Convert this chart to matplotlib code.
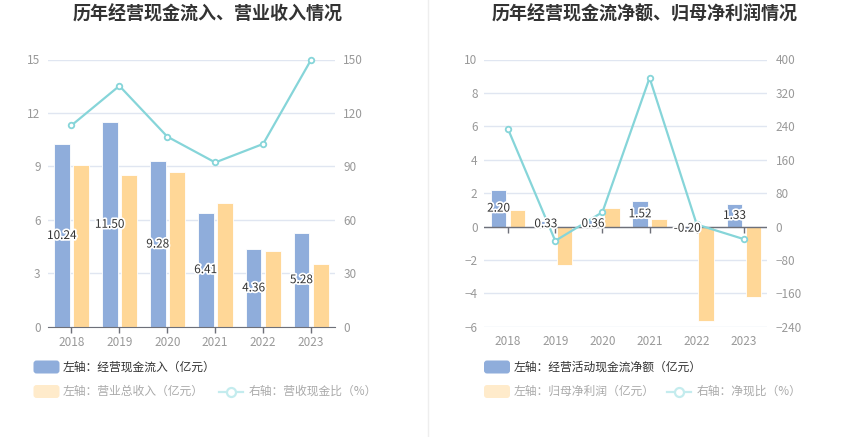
import matplotlib
matplotlib.use("Agg")
import matplotlib.pyplot as plt
import matplotlib.patheffects as pe
from matplotlib.patches import FancyBboxPatch
from matplotlib.lines import Line2D
from matplotlib.transforms import IdentityTransform
import numpy as np

plt.rcParams['font.family'] = ['Noto Sans CJK SC', 'DejaVu Sans']

# ---------------- data ----------------
years = ['2018', '2019', '2020', '2021', '2022', '2023']

# left chart
cash_inflow = [10.24, 11.50, 9.28, 6.41, 4.36, 5.28]        # 经营现金流入（亿元）
revenue = [9.05, 8.51, 8.70, 6.96, 4.26, 3.53]              # 营业总收入（亿元）
cash_revenue_ratio = [113.0, 135.2, 106.7, 92.2, 102.6, 149.8]  # 营收现金比（%）

# right chart
op_cash_net = [2.20, 0.33, 0.36, 1.52, -0.20, 1.33]         # 经营活动现金流净额（亿元）
net_profit = [0.98, -2.32, 1.10, 0.46, -5.67, -4.23]        # 归母净利润（亿元）
net_cash_ratio = [233.0, -34.3, 34.3, 356.0, 4.8, -30.3]    # 净现比（%）

titles = ['历年经营现金流入、营业收入情况', '历年经营现金流净额、归母净利润情况']
legend_left = ['左轴：经营现金流入（亿元）', '左轴：营业总收入（亿元）', '右轴：营收现金比（%）']
legend_right = ['左轴：经营活动现金流净额（亿元）', '左轴：归母净利润（亿元）', '右轴：净现比（%）']

# ---------------- style ----------------
BLUE = '#8FADDB'
ORANGE = '#FFD797'
CYAN = '#86D5D9'
ORANGE_FADE = '#FFEBCB'
CYAN_FADE = '#C4ECEE'
GRID = '#E0E6F1'
AXIS = '#6E7079'
TICK = '#999999'

W, H = 850, 437
fig = plt.figure(figsize=(W / 100, H / 100), dpi=100)


def px_axes(x0, x1, y0, y1):
    """axes from pixel box (top-left origin)"""
    return fig.add_axes([x0 / W, 1 - y1 / H, (x1 - x0) / W, (y1 - y0) / H])


def draw_panel(ax, left_vals, right_vals, line_vals, ylim, yticks, y2lim, y2ticks, zero_inside):
    x = np.arange(len(years))
    ax2 = ax.twinx()
    ax.set_zorder(1)
    ax2.set_zorder(2)
    ax.patch.set_visible(False)

    for t in yticks:
        ax.axhline(t, color=GRID, lw=1, zorder=0)

    ax.bar(x - 0.2, left_vals, width=0.33, color=BLUE, edgecolor='white', lw=0.6, zorder=2)
    ax.bar(x + 0.2, right_vals, width=0.33, color=ORANGE, edgecolor='white', lw=0.6, zorder=2)

    ax2.plot(x, line_vals, color=CYAN, lw=1.6, marker='o', ms=4, mfc='white',
             mec=CYAN, mew=1.3, zorder=3, clip_on=False)

    for xi, v in zip(x, left_vals):
        ax2.text(xi - 0.2, v / 2, f'{v:.2f}', transform=ax.transData, ha='center', va='center',
                 fontsize=8.5, color='#333333', zorder=5,
                 path_effects=[pe.withStroke(linewidth=2.5, foreground='white')])

    ax.set_xlim(-0.5, len(years) - 0.5)
    ax.set_ylim(*ylim)
    ax.set_yticks(yticks)
    ax2.set_ylim(*y2lim)
    ax2.set_yticks(y2ticks)
    ax.set_xticks(x)
    ax.set_xticklabels(years)

    for a in (ax, ax2):
        for s in a.spines.values():
            s.set_visible(False)
    ax.tick_params(axis='y', length=0, pad=5, labelsize=8.5, labelcolor=TICK)
    ax2.tick_params(axis='y', length=0, pad=6, labelsize=8.5, labelcolor=TICK)

    if zero_inside:
        ax.axhline(0, color=AXIS, lw=1, zorder=3)
        ax.plot(x, [0] * len(x), ls='none', marker=3, ms=4, color=AXIS, zorder=3)
        ax.tick_params(axis='x', length=0, pad=6, labelsize=8.5, labelcolor=TICK)
    else:
        ax.spines['bottom'].set_visible(True)
        ax.spines['bottom'].set_color(AXIS)
        ax.tick_params(axis='x', length=4, width=1, color=AXIS, pad=3,
                       labelsize=8.5, labelcolor=TICK)
    return ax2


# left panel
axL = px_axes(47.5, 335, 59.5, 326.7)
draw_panel(axL, cash_inflow, revenue, cash_revenue_ratio,
           (0, 15), np.arange(0, 16, 3), (0, 150), np.arange(0, 151, 30), False)

# right panel
axR = px_axes(484.5, 767.5, 59.5, 326.7)
draw_panel(axR, op_cash_net, net_profit, net_cash_ratio,
           (-6, 10), np.arange(-6, 11, 2), (-240, 400), np.arange(-240, 401, 80), True)

# titles
fig.text(208 / W, 1 - 14 / H, titles[0], ha='center', va='center',
         fontsize=13, fontweight='bold', color='#333333')
fig.text(645 / W, 1 - 14 / H, titles[1], ha='center', va='center',
         fontsize=13, fontweight='bold', color='#333333')

# separator
fig.add_artist(Line2D([428 / W, 428 / W], [0, 1], color='#EEEEEE', lw=1,
                      transform=fig.transFigure))


def legend_patch(x0, yc, color):
    p = FancyBboxPatch((x0, H - yc - 6.5), 26, 13, boxstyle='round,pad=0,rounding_size=3',
                       fc=color, ec='none', transform=IdentityTransform())
    fig.add_artist(p)


def legend_line(x0, yc):
    fig.add_artist(Line2D([x0, x0 + 24], [H - yc, H - yc], color=CYAN_FADE, lw=1.6,
                          transform=IdentityTransform()))
    fig.add_artist(Line2D([x0 + 12], [H - yc], marker='o', ms=6.5, mfc='white',
                          mec=CYAN_FADE, mew=1.6, transform=IdentityTransform()))


def legend_text(x0, yc, s, color):
    fig.text(x0 / W, 1 - yc / H, s, ha='left', va='center', fontsize=8.5, color=color)


for base, labels, line_x in ((33.5, legend_left, 219), (484, legend_right, 667)):
    legend_patch(base, 367, BLUE)
    legend_text(base + 29.5, 367, labels[0], '#333333')
    legend_patch(base, 391.5, ORANGE_FADE)
    legend_text(base + 29.5, 391.5, labels[1], '#AAAAAA')
    legend_line(line_x, 391.5)
    legend_text(line_x + 30, 391.5, labels[2], '#AAAAAA')

fig.savefig('out.png', dpi=100)
